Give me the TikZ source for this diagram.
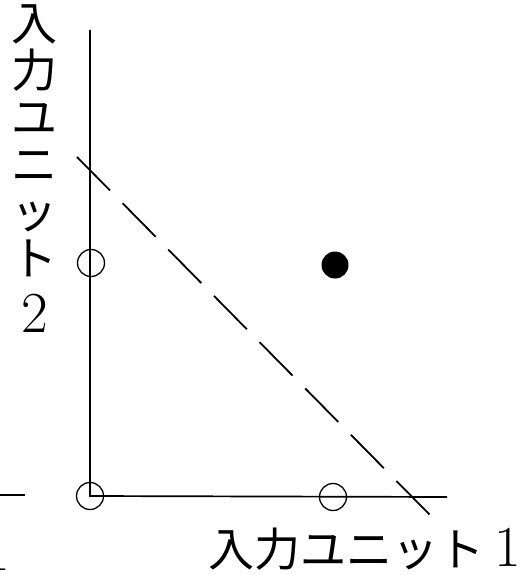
\documentclass[tikz,border=0pt]{standalone}
\usepackage{fontspec}
\newfontfamily\jpfont{Noto Sans CJK JP}
\newcommand\bigdigit[1]{{\fontsize{58}{47}\selectfont #1}}
\usetikzlibrary{positioning}

\begin{document}
\begin{tikzpicture}[x=1pt, y=-1pt,
  opendot/.style={circle, draw, line width=1.3pt, minimum size=27pt, inner sep=0pt},
  fulldot/.style={circle, fill, minimum size=27pt, inner sep=0pt},
  axislabel/.style={inner sep=0pt, font=\fontsize{46}{47}\selectfont}]
\useasboundingbox (0,0) rectangle (528,575);
% axes
\coordinate (o) at (90,496);
\coordinate (ytop) at (90,30);
\coordinate (xend) at (447,497);
\draw[line width=1.7pt] (ytop) -- (o) -- (xend);
% input patterns
\node[opendot] (p00) at (90,496) {};
\node[opendot] (p10) at (333,497) {};
\node[opendot] (p01) at (91,263) {};
\node[fulldot] (p11) at (335,265) {};
% separating line
\coordinate (d1) at (77,157);
\coordinate (d2) at (430,515);
\draw[line width=1.8pt, dash pattern=on 47pt off 18pt] (d1) -- (d2);
% labels
\node[axislabel, anchor=base east] (xlabel) at (521,566) {{\jpfont 入力ユニット}\hspace{10pt}\bigdigit{1}};
\node[axislabel, align=center, anchor=north] (ylabel) at (35,4) {\jpfont 入\\ \jpfont 力\\ \jpfont ユ\\ \jpfont ニ\\ \jpfont ッ\\ \jpfont ト\\[10pt] \bigdigit{2}};
% cut-off part of the neighbouring figure
\coordinate (f1) at (-5,495);
\coordinate (f2) at (25,495);
\draw[line width=1.7pt] (f1) -- (f2);
\node[axislabel, anchor=base east] (fone) at (10,570) {\bigdigit{1}};
\end{tikzpicture}
\end{document}
